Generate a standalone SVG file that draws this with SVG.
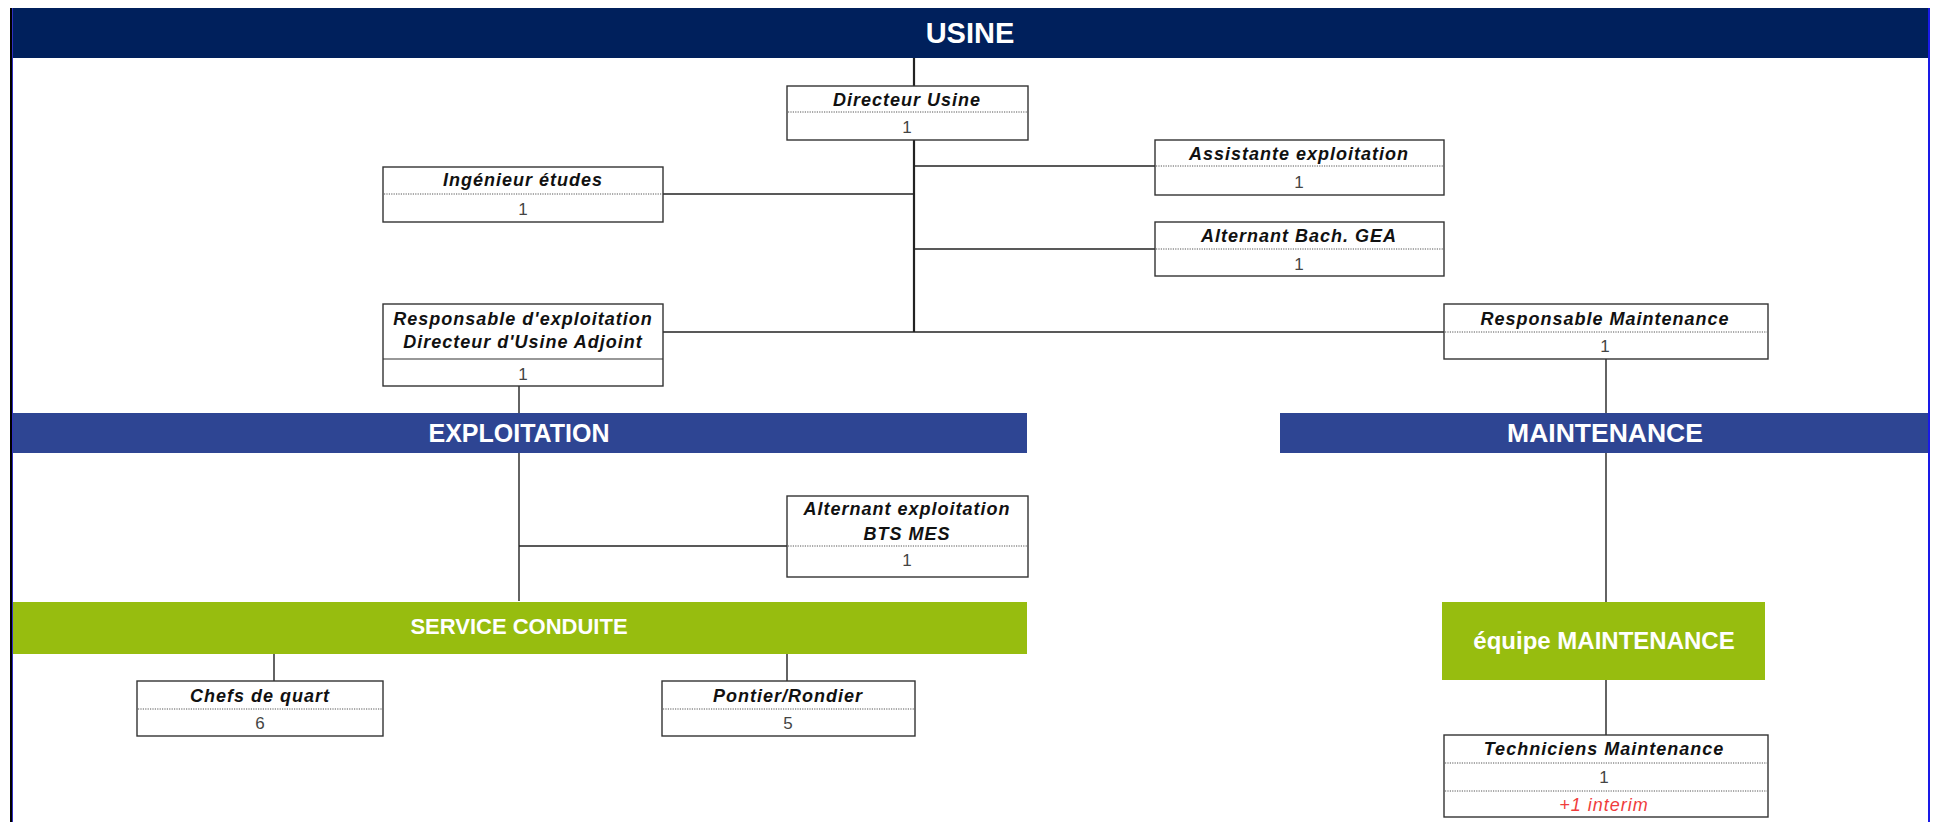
<svg xmlns="http://www.w3.org/2000/svg" width="1934" height="822" viewBox="0 0 1934 822">
<style>
.box{fill:#fff;stroke:#333;stroke-width:1.4}
.dot{stroke:#555;stroke-width:1;stroke-dasharray:1.2 1.2}
.sol{stroke:#333;stroke-width:1.2}
.t{font-family:"Liberation Sans",Arial,sans-serif;font-weight:bold;font-style:italic;font-size:18px;letter-spacing:1px;fill:#111;text-anchor:middle}
.n{font-family:"Liberation Sans",Arial,sans-serif;font-size:17px;fill:#444;text-anchor:middle}
.r{font-family:"Liberation Sans",Arial,sans-serif;font-style:italic;font-size:18px;letter-spacing:1px;fill:#f03c3c;text-anchor:middle}
.h{font-family:"Liberation Sans",Arial,sans-serif;font-weight:bold;fill:#fff;text-anchor:middle}
.c{stroke:#222;stroke-width:1.4;fill:none}
</style>
<rect width="1934" height="822" fill="#fff"/>
<g id="connectors">
<line class="c" x1="914" y1="58" x2="914" y2="332" style="stroke-width:2.2"/>
<line class="c" x1="663" y1="194" x2="914" y2="194"/>
<line class="c" x1="914" y1="166" x2="1155" y2="166"/>
<line class="c" x1="914" y1="249" x2="1155" y2="249"/>
<line class="c" x1="663" y1="332" x2="1444" y2="332"/>
<line class="c" x1="519" y1="386" x2="519" y2="601"/>
<line class="c" x1="519" y1="546" x2="787" y2="546"/>
<line class="c" x1="1606" y1="359" x2="1606" y2="735"/>
<line class="c" x1="274" y1="654" x2="274" y2="681"/>
<line class="c" x1="787" y1="654" x2="787" y2="681"/>
</g>
<g id="usine">
<rect x="12" y="8" width="1916" height="50" fill="#00205C"/>
<text class="h" x="970" y="43" font-size="29">USINE</text>
</g>
<g id="exploitation">
<rect x="12" y="413" width="1015" height="40" fill="#2E4593"/>
<text class="h" x="519" y="442" font-size="25">EXPLOITATION</text>
</g>
<g id="maintenance">
<rect x="1280" y="413" width="648" height="40" fill="#2E4593"/>
<text class="h" x="1605" y="442" font-size="26.5">MAINTENANCE</text>
</g>
<g id="service-conduite">
<rect x="12" y="602" width="1015" height="52" fill="#97BD0F"/>
<text class="h" x="519" y="634" font-size="22">SERVICE CONDUITE</text>
</g>
<g id="equipe-maintenance">
<rect x="1442" y="602" width="323" height="78" fill="#97BD0F"/>
<text class="h" x="1604" y="649" font-size="24">équipe MAINTENANCE</text>
</g>
<g id="directeur-usine">
<rect class="box" x="787" y="86" width="241" height="54"/>
<line class="dot" x1="788" y1="112" x2="1027" y2="112"/>
<text class="t" x="907" y="106">Directeur Usine</text>
<text class="n" x="907" y="133">1</text>
</g>
<g id="ingenieur-etudes">
<rect class="box" x="383" y="167" width="280" height="55"/>
<line class="dot" x1="384" y1="194" x2="662" y2="194"/>
<text class="t" x="523" y="186">Ingénieur études</text>
<text class="n" x="523" y="215">1</text>
</g>
<g id="assistante-exploitation">
<rect class="box" x="1155" y="140" width="289" height="55"/>
<line class="dot" x1="1156" y1="166" x2="1443" y2="166"/>
<text class="t" x="1299" y="160">Assistante exploitation</text>
<text class="n" x="1299" y="188">1</text>
</g>
<g id="alternant-bach-gea">
<rect class="box" x="1155" y="222" width="289" height="54"/>
<line class="dot" x1="1156" y1="249" x2="1443" y2="249"/>
<text class="t" x="1299" y="242">Alternant Bach. GEA</text>
<text class="n" x="1299" y="270">1</text>
</g>
<g id="responsable-exploitation">
<rect class="box" x="383" y="304" width="280" height="82"/>
<line class="sol" x1="383" y1="359" x2="663" y2="359"/>
<text class="t" x="523" y="325">Responsable d'exploitation</text>
<text class="t" x="523" y="348">Directeur d'Usine Adjoint</text>
<text class="n" x="523" y="380">1</text>
</g>
<g id="responsable-maintenance">
<rect class="box" x="1444" y="304" width="324" height="55"/>
<line class="dot" x1="1445" y1="332" x2="1767" y2="332"/>
<text class="t" x="1605" y="325">Responsable Maintenance</text>
<text class="n" x="1605" y="352">1</text>
</g>
<g id="alternant-exploitation">
<rect class="box" x="787" y="496" width="241" height="81"/>
<line class="dot" x1="788" y1="546" x2="1027" y2="546"/>
<text class="t" x="907" y="515">Alternant exploitation</text>
<text class="t" x="907" y="540">BTS MES</text>
<text class="n" x="907" y="566">1</text>
</g>
<g id="chefs-de-quart">
<rect class="box" x="137" y="681" width="246" height="55"/>
<line class="dot" x1="138" y1="709" x2="382" y2="709"/>
<text class="t" x="260" y="702">Chefs de quart</text>
<text class="n" x="260" y="729">6</text>
</g>
<g id="pontier-rondier">
<rect class="box" x="662" y="681" width="253" height="55"/>
<line class="dot" x1="663" y1="709" x2="914" y2="709"/>
<text class="t" x="788" y="702">Pontier/Rondier</text>
<text class="n" x="788" y="729">5</text>
</g>
<g id="techniciens-maintenance">
<rect class="box" x="1444" y="735" width="324" height="82"/>
<line class="dot" x1="1445" y1="763" x2="1767" y2="763"/>
<line class="dot" x1="1445" y1="791" x2="1767" y2="791"/>
<text class="t" x="1604" y="755">Techniciens Maintenance</text>
<text class="n" x="1604" y="783">1</text>
<text class="r" x="1604" y="811">+1 interim</text>
</g>
<g id="frame">
<line x1="11" y1="8" x2="11" y2="822" stroke="#000" stroke-width="2"/>
<line x1="12.5" y1="8" x2="12.5" y2="822" stroke="#3030c0" stroke-width="1"/>
<line x1="1929" y1="8" x2="1929" y2="822" stroke="#1a1ae6" stroke-width="2"/>
</g>
</svg>
